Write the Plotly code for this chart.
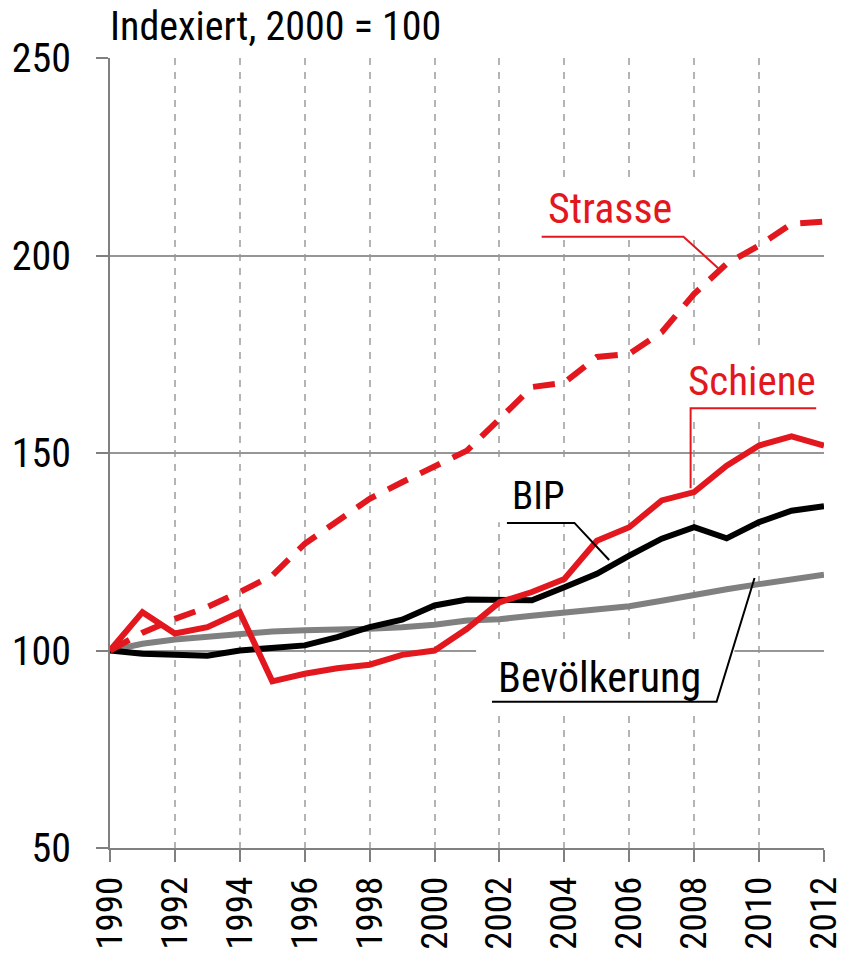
import plotly.graph_objects as go

years = list(range(1990, 2013))
strasse = [100, 104.5, 108, 111, 114.8, 119, 127, 132.5, 138.4, 142.6, 146.8, 150.6,
           158.6, 166.7, 167.8, 174.3, 175.1, 180.6, 190.3, 197.9, 202.5, 208, 208.6]
schiene = [100, 109.7, 104.3, 105.9, 109.7, 92.2, 94.1, 95.5, 96.4, 98.9, 100, 105.5,
           112.2, 114.8, 118.1, 127.8, 131.2, 138, 140.1, 146.8, 151.9, 154.2, 151.9]
bip = [100, 99.2, 98.9, 98.7, 100, 100.8, 101.3, 103.4, 105.9, 107.8, 111.4, 112.9,
       112.7, 112.7, 116, 119.4, 124, 128.3, 131.2, 128.4, 132.5, 135.4, 136.5]
bevoelkerung = [100, 101.7, 102.8, 103.5, 104.2, 104.8, 105.1, 105.2, 105.5, 105.9, 106.5, 107.6,
                107.9, 108.8, 109.7, 110.5, 111.2, 112.6, 114.2, 115.5, 116.8, 118.0, 119.2]
x_ticks = list(range(1990, 2013, 2))
y_ticks = [50, 100, 150, 200, 250]

RED = "#E3171E"
GRAY = "#808080"
FONT = "Roboto Condensed, Noto Sans Condensed, Liberation Sans Narrow, DejaVu Sans Condensed, sans-serif"

fig = go.Figure()
fig.add_trace(go.Scatter(x=years, y=bevoelkerung, mode="lines", line=dict(color=GRAY, width=6),
                         name="Bevölkerung"))
fig.add_trace(go.Scatter(x=years, y=bip, mode="lines", line=dict(color="black", width=6), name="BIP"))
fig.add_trace(go.Scatter(x=years, y=schiene, mode="lines", line=dict(color=RED, width=6), name="Schiene"))
fig.add_trace(go.Scatter(x=years, y=strasse, mode="lines",
                         line=dict(color=RED, width=6, dash="22px,14px"), name="Strasse"))

shapes = []
# white label backgrounds (above grid, below traces)
for x0, x1, y0, y1 in [(2003.3, 2008.1, 205.4, 219.1),
                       (2007.75, 2012.3, 158.4, 177.3),
                       (2001.8, 2004.55, 132.5, 149.0),
                       (2001.28, 2009.24, 84.4, 101.5)]:
    shapes.append(dict(type="rect", xref="x", yref="y", x0=x0, x1=x1, y0=y0, y1=y1,
                       fillcolor="white", line=dict(width=0), layer="between"))

def callout(pts, color):
    path = "M " + " L ".join(f"{px},{py}" for px, py in pts)
    return dict(type="path", xref="x", yref="y", path=path,
                line=dict(color=color, width=2), layer="above")

shapes.append(callout([(2003.30, 204.76), (2007.67, 204.76), (2008.74, 196.8)], RED))
shapes.append(callout([(2011.76, 161.3), (2007.89, 161.3), (2007.89, 141.1)], RED))
shapes.append(callout([(2002.23, 132.3), (2004.31, 132.3), (2005.38, 122.9)], "black"))
shapes.append(callout([(2001.77, 87.04), (2008.69, 87.04), (2009.86, 118.35)], "black"))

annotations = [
    dict(text="Indexiert, 2000 = 100", xref="paper", yref="paper", x=-0.003, y=1.0725,
         xanchor="left", yanchor="top", showarrow=False, font=dict(size=40, color="black")),
    dict(text="Strasse", x=2005.41, y=211.8, showarrow=False, xanchor="center", yanchor="middle",
         font=dict(size=42, color=RED)),
    dict(text="Schiene", x=2009.78, y=168.2, showarrow=False, xanchor="center", yanchor="middle",
         font=dict(size=41, color=RED)),
    dict(text="BIP", x=2003.21, y=139.1, showarrow=False, xanchor="center", yanchor="middle",
         font=dict(size=39, color="black")),
    dict(text="Bevölkerung", x=2005.07, y=93.2, showarrow=False, xanchor="center", yanchor="middle",
         font=dict(size=42, color="black")),
]

fig.update_layout(
    width=846, height=957,
    margin=dict(l=110, r=22, t=58, b=109),
    paper_bgcolor="white", plot_bgcolor="white",
    showlegend=False,
    font=dict(family=FONT, color="black", size=40),
    shapes=shapes, annotations=annotations,
    xaxis=dict(range=[1990, 2012], tickvals=x_ticks, ticktext=[str(v) for v in x_ticks],
               tickangle=-90, showgrid=True, gridcolor="#B4B4B4", gridwidth=1.5,
               griddash="7px,7px", showline=True, linecolor=GRAY, linewidth=2,
               ticks="outside", ticklen=12, tickwidth=2, tickcolor=GRAY,
               tickfont=dict(size=37, family=FONT, color="black"), zeroline=False,
               ticklabelstandoff=0, automargin=False, ticklabeloverflow="allow"),
    yaxis=dict(range=[50, 250], tickvals=y_ticks, showgrid=True, gridcolor="#969696", gridwidth=2,
               showline=True, linecolor=GRAY, linewidth=2, ticks="outside", ticklen=12,
               tickwidth=2, tickcolor=GRAY, zeroline=False,
               tickfont=dict(size=40, family=FONT, color="black"), ticklabelstandoff=17,
               automargin=False, ticklabeloverflow="allow"),
)

fig.write_html("out.html", config={"displayModeBar": False},
               post_script="document.body.style.margin='0';document.body.style.overflow='hidden';")
